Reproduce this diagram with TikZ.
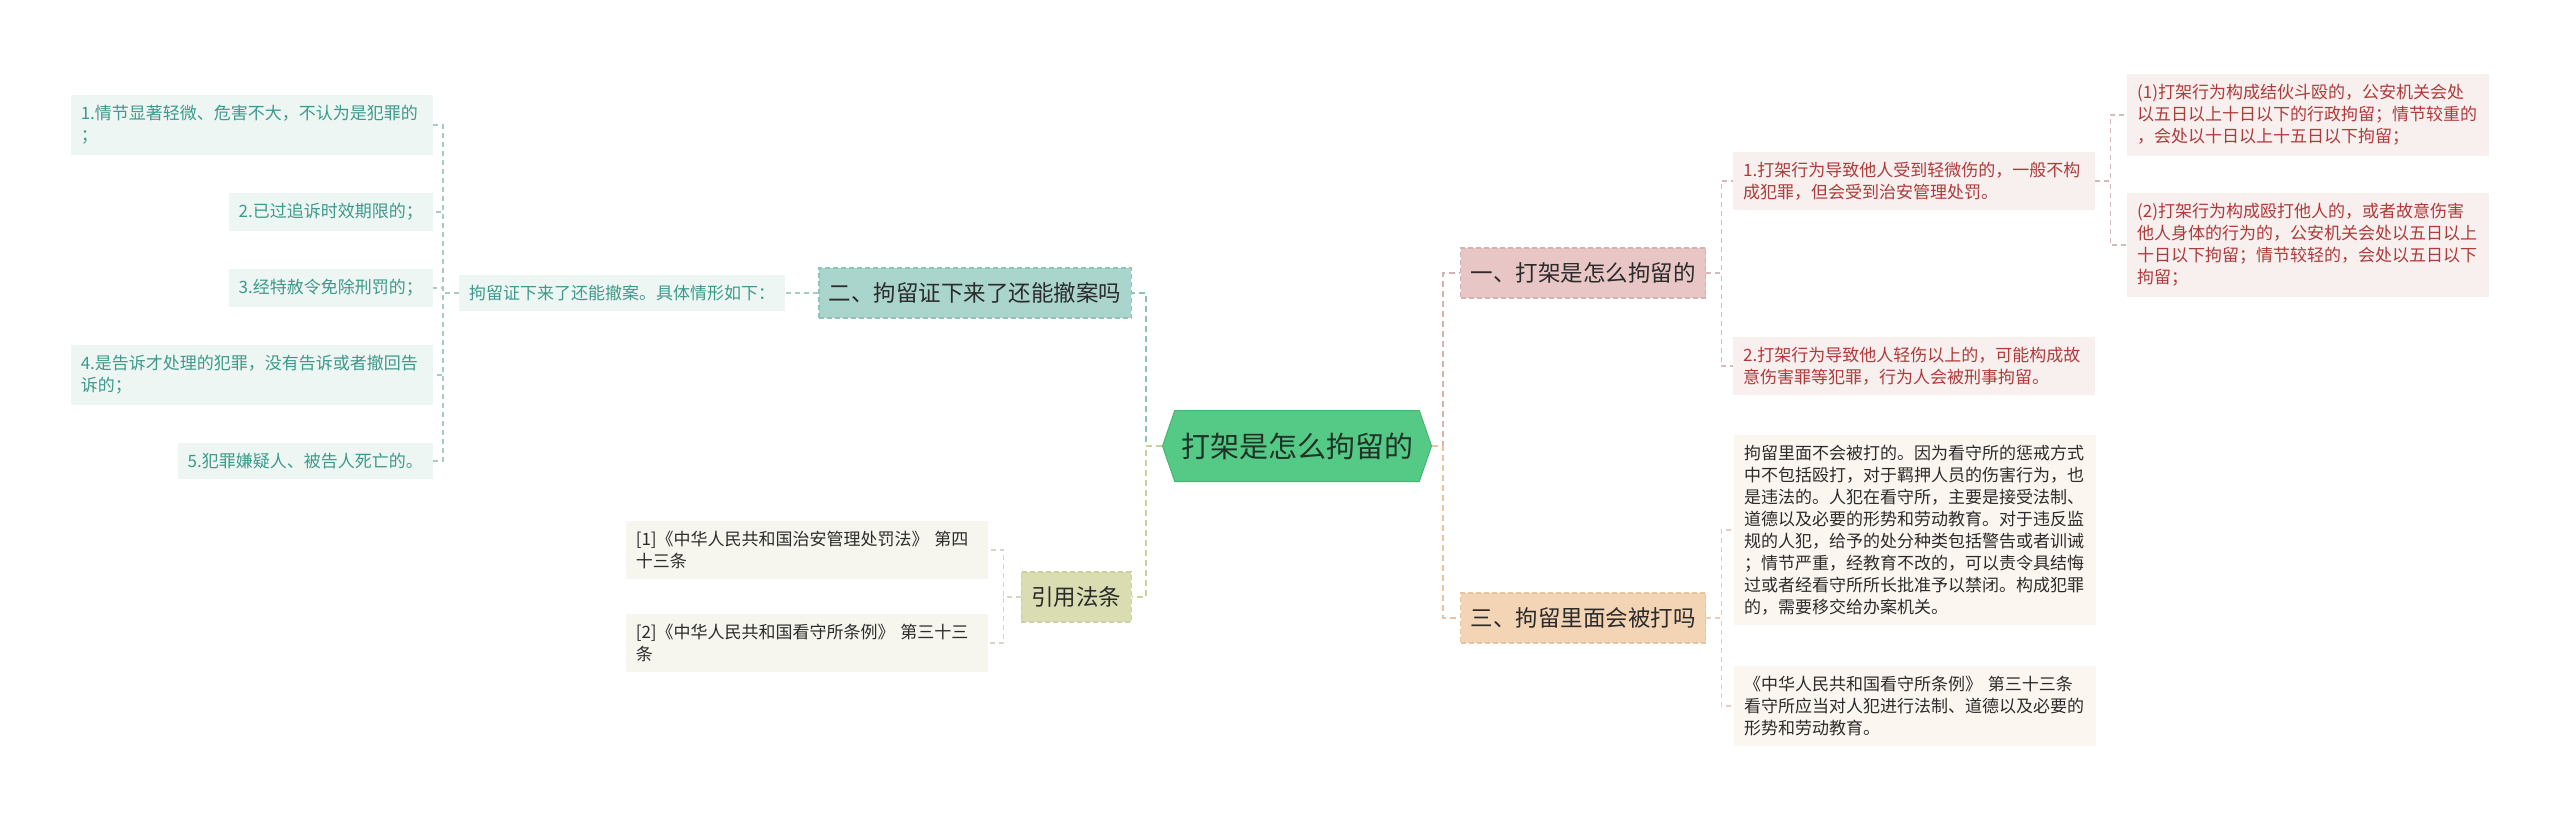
\documentclass[tikz,border=0pt]{standalone}
\usepackage{fontspec}
\setmainfont{Noto Sans CJK SC}
\usetikzlibrary{positioning,shapes.symbols}

\definecolor{rootfill}{HTML}{55C986}
\definecolor{rootline}{HTML}{43B673}
\definecolor{rootink}{HTML}{1F3327}
\definecolor{ink}{HTML}{2B2B2B}
\definecolor{tealfill}{HTML}{A9D5CC}
\definecolor{tealline}{HTML}{8DC4B9}
\definecolor{tealleaf}{HTML}{EEF6F4}
\definecolor{tealink}{HTML}{3D9A8A}
\definecolor{tealtwig}{HTML}{A6CDC5}
\definecolor{olivefill}{HTML}{D9DDB1}
\definecolor{oliveline}{HTML}{CBD09E}
\definecolor{oliveleaf}{HTML}{F6F6EF}
\definecolor{olivetwig}{HTML}{D5D8C0}
\definecolor{pinkfill}{HTML}{E8C6C6}
\definecolor{pinkline}{HTML}{D9B0B0}
\definecolor{pinkleaf}{HTML}{F8EFEF}
\definecolor{pinkink}{HTML}{B03A3A}
\definecolor{pinktwig}{HTML}{D6BABA}
\definecolor{tanfill}{HTML}{F3D4B5}
\definecolor{tanline}{HTML}{E9C39E}
\definecolor{tanleaf}{HTML}{FCF6F0}
\definecolor{tantwig}{HTML}{E6D0BB}

\begin{document}
\begin{tikzpicture}[x=1pt, y=-1pt,
  root/.style={signal, signal to=west and east, signal pointer angle=142, fill=rootfill, draw=rootline, line width=1, minimum width=269, minimum height=71, inner xsep=4, font=\fontsize{29}{34}\selectfont, text=rootink},
  topic/.style={draw, dash pattern=on 5pt off 3pt, line width=1.2, minimum height=50, inner xsep=10, font=\fontsize{22.5}{27}\selectfont, text=ink},
  leaf/.style={align=left, inner xsep=10, inner ysep=10, font=\fontsize{17}{22}\selectfont, text=ink},
  wide/.style={text width=342},
  link/.style={dash pattern=on 6pt off 4pt, line width=2},
  twig/.style={dash pattern=on 5pt off 4pt, line width=1.2}
]
\useasboundingbox (0,0) rectangle (2560,821);

\node[root] (root) at (1297,446) {打架是怎么拘留的};

% left branches
\node[topic, fill=tealfill, draw=tealline, anchor=east, minimum width=307] (q2) at (1132,293) {二、拘留证下来了还能撤案吗};
\node[topic, fill=olivefill, draw=oliveline, anchor=east] (law) at (1132,597) {引用法条};
\node[leaf, fill=tealleaf, text=tealink, left=33pt of q2] (cases) {拘留证下来了还能撤案。具体情形如下：};
\node[leaf, wide, fill=tealleaf, text=tealink, anchor=east] (c1) at (433,125) {1.情节显著轻微、危害不大，不认为是犯罪的\\；};
\node[leaf, fill=tealleaf, text=tealink, anchor=east] (c2) at (433,212) {2.已过追诉时效期限的；};
\node[leaf, fill=tealleaf, text=tealink, anchor=east] (c3) at (433,288) {3.经特赦令免除刑罚的；};
\node[leaf, wide, fill=tealleaf, text=tealink, anchor=east] (c4) at (433,375) {4.是告诉才处理的犯罪，没有告诉或者撤回告\\诉的；};
\node[leaf, fill=tealleaf, text=tealink, anchor=east] (c5) at (433,461) {5.犯罪嫌疑人、被告人死亡的。};
\node[leaf, wide, fill=oliveleaf, anchor=east] (ref1) at (988,550) {[1]《中华人民共和国治安管理处罚法》 第四\\十三条};
\node[leaf, wide, fill=oliveleaf, anchor=east] (ref2) at (988,643) {[2]《中华人民共和国看守所条例》 第三十三\\条};

% right branches
\node[topic, fill=pinkfill, draw=pinkline, anchor=west, minimum width=243] (q1) at (1460,273) {一、打架是怎么拘留的};
\node[topic, fill=tanfill, draw=tanline, anchor=west, minimum width=243] (q3) at (1460,618) {三、拘留里面会被打吗};
\node[leaf, wide, fill=pinkleaf, text=pinkink, anchor=west] (a1) at (1733,181) {1.打架行为导致他人受到轻微伤的，一般不构\\成犯罪，但会受到治安管理处罚。};
\node[leaf, wide, fill=pinkleaf, text=pinkink, anchor=west] (a2) at (1733,366) {2.打架行为导致他人轻伤以上的，可能构成故\\意伤害罪等犯罪，行为人会被刑事拘留。};
\node[leaf, wide, fill=pinkleaf, text=pinkink, anchor=west] (a11) at (2127,115) {(1)打架行为构成结伙斗殴的，公安机关会处\\以五日以上十日以下的行政拘留；情节较重的\\，会处以十日以上十五日以下拘留；};
\node[leaf, wide, fill=pinkleaf, text=pinkink, anchor=west] (a12) at (2127,245) {(2)打架行为构成殴打他人的，或者故意伤害\\他人身体的行为的，公安机关会处以五日以上\\十日以下拘留；情节较轻的，会处以五日以下\\拘留；};
\node[leaf, wide, fill=tanleaf, anchor=west] (b1) at (1734,530) {拘留里面不会被打的。因为看守所的惩戒方式\\中不包括殴打，对于羁押人员的伤害行为，也\\是违法的。人犯在看守所，主要是接受法制、\\道德以及必要的形势和劳动教育。对于违反监\\规的人犯，给予的处分种类包括警告或者训诫\\；情节严重，经教育不改的，可以责令具结悔\\过或者经看守所所长批准予以禁闭。构成犯罪\\的，需要移交给办案机关。};
\node[leaf, wide, fill=tanleaf, anchor=west] (b2) at (1734,706) {《中华人民共和国看守所条例》 第三十三条\\看守所应当对人犯进行法制、道德以及必要的\\形势和劳动教育。};

% connectors
\draw[link, tealline] (root.west) -- ++(-16,0) |- (q2.east);
\draw[link, oliveline] (root.west) -- ++(-16,0) |- (law.east);
\draw[link, pinkline] (root.east) -- ++(11,0) |- (q1.west);
\draw[link, tanline] (root.east) -- ++(11,0) |- (q3.west);
\draw[twig, tealtwig] (q2.west) -- (cases.east);
\foreach \n in {c1,c2,c3,c4,c5}
  \draw[twig, tealtwig] (cases.west) -- ++(-16,0) |- (\n.east);
\foreach \n in {ref1,ref2}
  \draw[twig, olivetwig] (law.west) -- ++(-17,0) |- (\n.east);
\foreach \n in {a1,a2}
  \draw[twig, pinktwig] (q1.east) -- ++(15,0) |- (\n.west);
\foreach \n in {a11,a12}
  \draw[twig, pinktwig] (a1.east) -- ++(15,0) |- (\n.west);
\foreach \n in {b1,b2}
  \draw[twig, tantwig] (q3.east) -- ++(15,0) |- (\n.west);
\end{tikzpicture}
\end{document}
